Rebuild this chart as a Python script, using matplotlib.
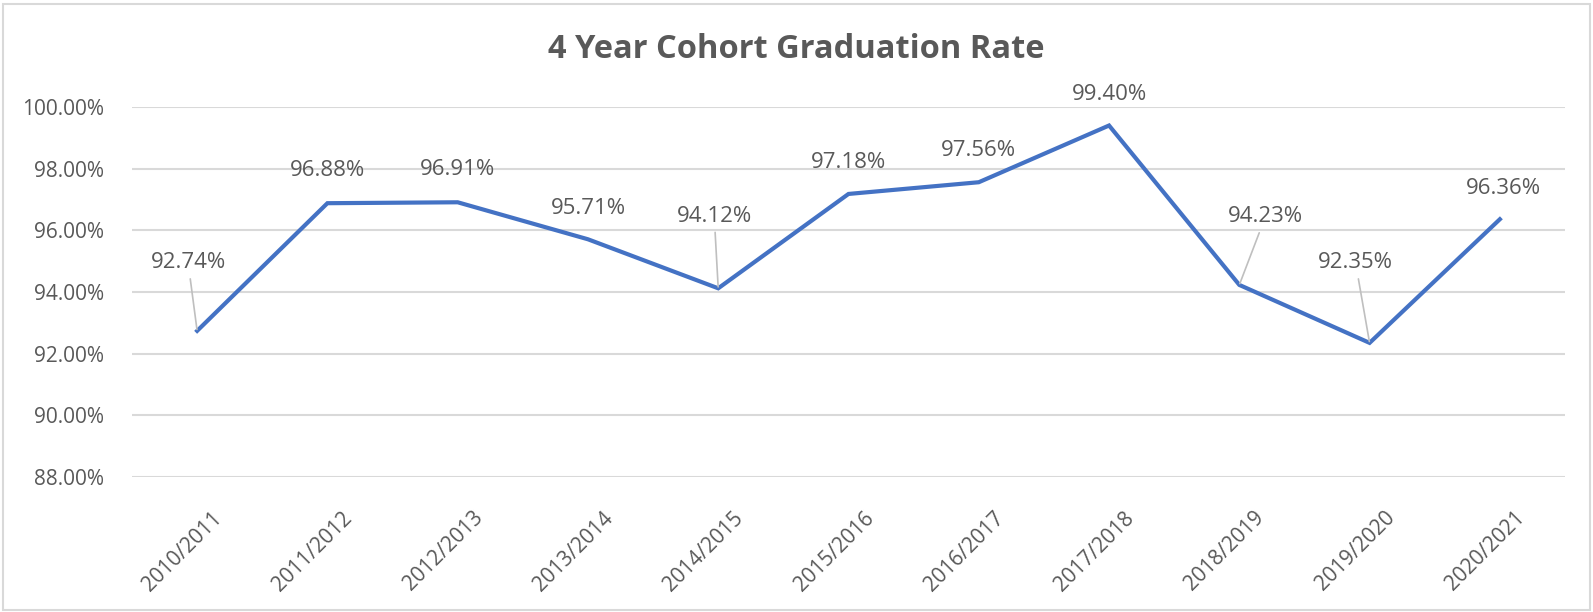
import matplotlib.pyplot as plt
from matplotlib.patches import Rectangle
from matplotlib.ticker import FuncFormatter
import matplotlib.transforms as mtransforms

# data
years = ["2010/2011", "2011/2012", "2012/2013", "2013/2014", "2014/2015", "2015/2016",
         "2016/2017", "2017/2018", "2018/2019", "2019/2020", "2020/2021"]
rates = [92.74, 96.88, 96.91, 95.71, 94.12, 97.18, 97.56, 99.40, 94.23, 92.35, 96.36]
yticks = [88, 90, 92, 94, 96, 98, 100]

# label offsets in pixels (dx, dy) and whether a leader line is drawn
label_offsets = [(-9, 68), (0, 33), (0, 33), (0, 31), (-4, 72), (0, 31),
                 (0, 32), (0, 31), (26, 68), (-14, 80), (4, 31)]
leaders = [True, False, False, False, True, False, False, False, True, True, False]

plt.rcParams['font.family'] = ['Open Sans', 'DejaVu Sans']
gray = '#595959'

fig = plt.figure(figsize=(15.93, 6.12), dpi=100)
ax = fig.add_axes([132 / 1593, 1 - 477 / 612, (1565 - 132) / 1593, (477 - 107) / 612])

x = list(range(len(years)))
ax.plot(x, rates, color='#4472C4', lw=3.0, solid_joinstyle='miter', zorder=3)

ax.set_xlim(-0.5, len(years) - 0.5)
ax.set_ylim(88, 100)
ax.set_yticks(yticks)
ax.yaxis.set_major_formatter(FuncFormatter(lambda v, p: "%.2f%%" % v))
ax.grid(axis='y', color='#d9d9d9', lw=1.5)
ax.set_axisbelow(True)
for s in ax.spines.values():
    s.set_visible(False)
ax.tick_params(axis='both', length=0, labelcolor=gray, labelsize=15)
ax.tick_params(axis='y', pad=20)

ax.set_xticks(x)
ax.set_xticklabels(years, rotation=45, ha='right', va='center', rotation_mode='anchor')
offset = mtransforms.ScaledTranslation(0.22, -0.33, fig.dpi_scale_trans)
for lbl in ax.get_xticklabels():
    lbl.set_transform(lbl.get_transform() + offset)

for i, v in enumerate(rates):
    dx, dy = label_offsets[i]
    props = None
    if leaders[i]:
        props = dict(arrowstyle='-', color='#bfbfbf', lw=1.2, shrinkA=2, shrinkB=1)
    ax.annotate("%.2f%%" % v, xy=(i, v), xytext=(dx, dy), textcoords='offset pixels',
                ha='center', va='center', fontsize=16, color=gray, arrowprops=props)

fig.text(0.5, 1 - 49 / 612, "4 Year Cohort Graduation Rate", ha='center', va='center',
         fontsize=23.5, fontweight='bold', color=gray)

fig.patches.append(Rectangle((0.002, 0.004), 0.996, 0.99, transform=fig.transFigure,
                             fill=False, edgecolor='#d9d9d9', lw=1.5))

fig.savefig("out.png", dpi=100)
